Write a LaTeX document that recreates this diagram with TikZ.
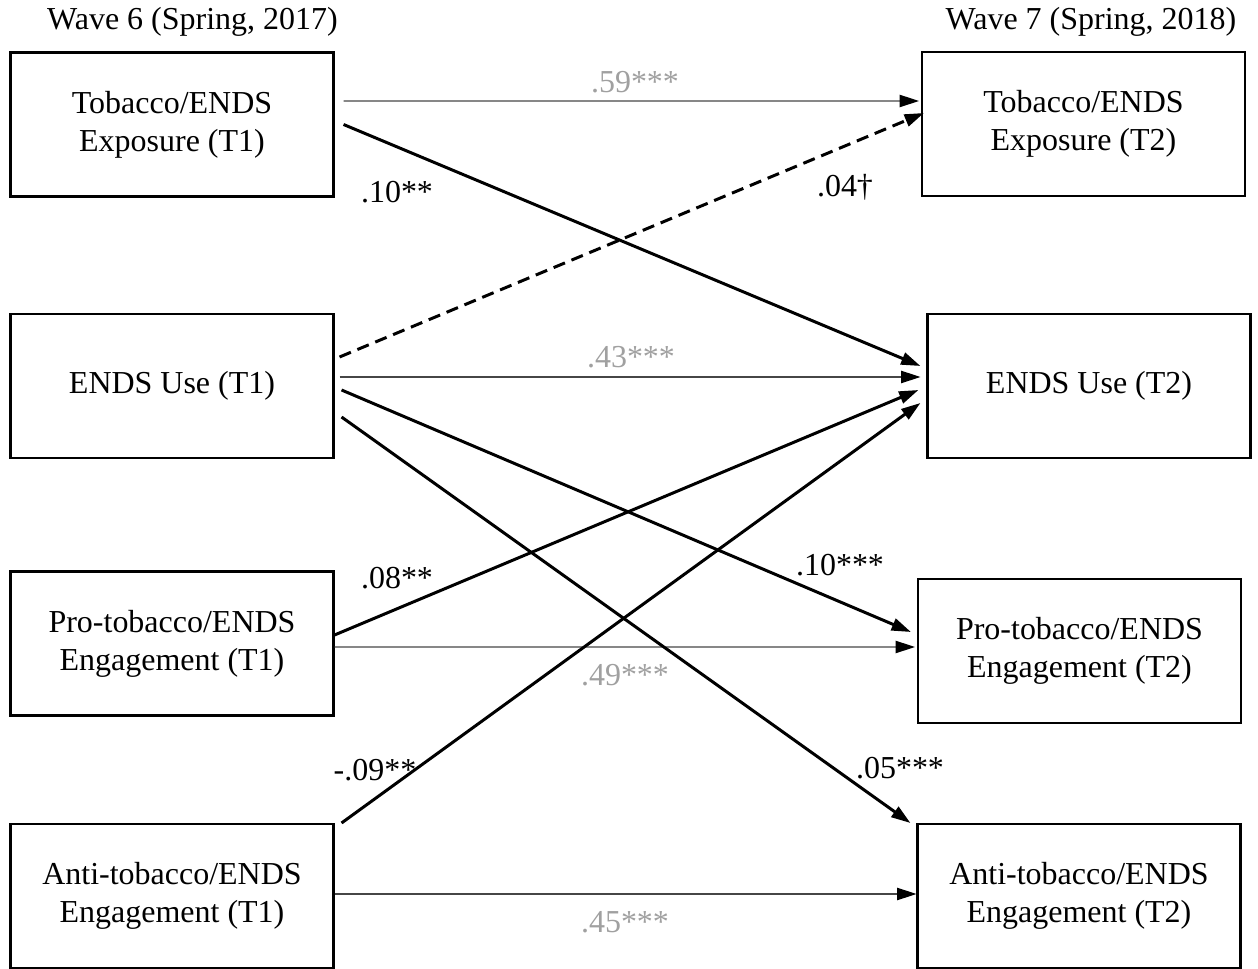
\documentclass[tikz,border=0pt]{standalone}
\usepackage{fontspec}
\setmainfont{Liberation Serif}
\usepackage{tikz}
\usetikzlibrary{arrows.meta}
\definecolor{coefgray}{RGB}{160,160,160}
\definecolor{pathgray}{RGB}{70,70,70}

\tikzset{
    varbox/.style={draw, line width=1.2pt, minimum width=6.46cm, minimum height=2.88cm,
        inner sep=0pt, align=center, font=\fontsize{18.2}{21.5}\selectfont},
    wavelabel/.style={font=\fontsize{18.2}{21.5}\selectfont},
    coef/.style={font=\fontsize{18.2}{21.5}\selectfont},
    stabcoef/.style={coef, text=coefgray},
    crosspath/.style={line width=1.7pt, -{Triangle[length=11pt,width=7pt]}},
    stabpath/.style={line width=0.8pt, draw=pathgray, -{Triangle[length=11pt,width=7pt,color=black]}}
}

\begin{document}
\begin{tikzpicture}
        \useasboundingbox (0,0) rectangle (25.16,-19.38);

        % wave headings
        \node[wavelabel] (wave6) at (3.85,-0.44) {Wave 6 (Spring, 2017)};
        \node[wavelabel] (wave7) at (21.82,-0.44) {Wave 7 (Spring, 2018)};

        % T1 measures
        \node[varbox] (expo1) at (3.44,-2.49) {Tobacco/ENDS\\Exposure (T1)};
        \node[varbox] (use1) at (3.44,-7.72) {ENDS Use (T1)};
        \node[varbox] (pro1) at (3.44,-12.87) {Pro-tobacco/ENDS\\Engagement (T1)};
        \node[varbox] (anti1) at (3.44,-17.92) {Anti-tobacco/ENDS\\Engagement (T1)};

        % T2 measures
        \node[varbox] (expo2) at (21.67,-2.48) {Tobacco/ENDS\\Exposure (T2)};
        \node[varbox] (use2) at (21.78,-7.72) {ENDS Use (T2)};
        \node[varbox] (pro2) at (21.59,-13.02) {Pro-tobacco/ENDS\\Engagement (T2)};
        \node[varbox] (anti2) at (21.58,-17.92) {Anti-tobacco/ENDS\\Engagement (T2)};

        % stability paths
        \draw[stabpath] ([xshift=0.18cm,yshift=0.47cm]expo1.east) -- ([xshift=-0.04cm,yshift=0.46cm]expo2.west);
        \draw[stabpath] ([xshift=0.1cm,yshift=0.18cm]use1.east) -- ([xshift=-0.12cm,yshift=0.18cm]use2.west);
        \draw[stabpath] ([yshift=-0.07cm]pro1.east) -- ([xshift=-0.04cm,yshift=0.08cm]pro2.west);
        \draw[stabpath] ([yshift=0.04cm]anti1.east) -- ([yshift=0.04cm]anti2.west);

        % cross-lagged paths
        \draw[crosspath] ([xshift=0.18cm]expo1.east) -- ([xshift=-0.12cm,yshift=0.4cm]use2.west);
        \draw[crosspath, dash pattern=on 7pt off 4pt] ([xshift=0.1cm,yshift=0.58cm]use1.east) -- ([xshift=0.06cm,yshift=0.22cm]expo2.west);
        \draw[crosspath] ([xshift=0.14cm,yshift=-0.08cm]use1.east) -- ([xshift=-0.12cm,yshift=0.38cm]pro2.west);
        \draw[crosspath] ([xshift=0.14cm,yshift=-0.62cm]use1.east) -- ([xshift=-0.12cm,yshift=1.46cm]anti2.west);
        \draw[crosspath] ([yshift=0.17cm]pro1.east) -- ([xshift=-0.16cm,yshift=-0.08cm]use2.west);
        \draw[crosspath] ([xshift=0.14cm,yshift=1.46cm]anti1.east) -- ([xshift=-0.12cm,yshift=-0.34cm]use2.west);

        % coefficients
        \node[stabcoef] (b59) at (12.7,-1.64) {.59***};
        \node[stabcoef] (b43) at (12.62,-7.14) {.43***};
        \node[stabcoef] (b49) at (12.5,-13.5) {.49***};
        \node[stabcoef] (b45) at (12.5,-18.44) {.45***};
        \node[coef] (b10a) at (7.94,-3.84) {.10**};
        \node[coef] (b04) at (16.9,-3.74) {.04†};
        \node[coef] (b10b) at (16.8,-11.3) {.10***};
        \node[coef] (b05) at (18.0,-15.36) {.05***};
        \node[coef] (b08) at (7.94,-11.56) {.08**};
        \node[coef] (b09) at (7.5,-15.4) {-.09**};
    \end{tikzpicture}
\end{document}
